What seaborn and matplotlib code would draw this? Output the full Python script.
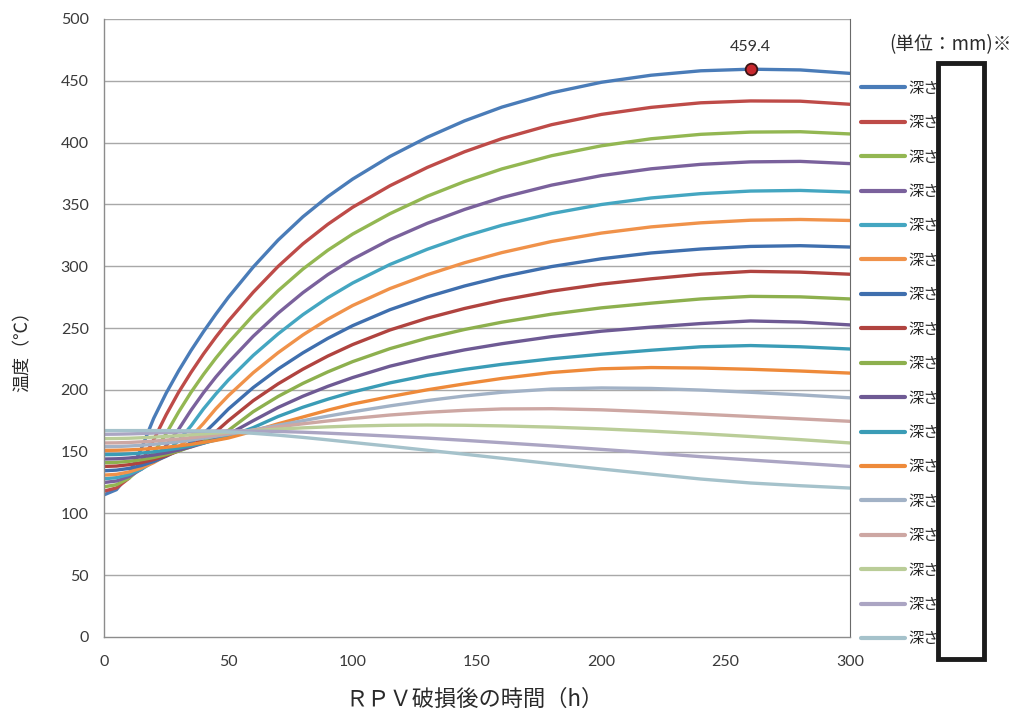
import matplotlib
matplotlib.use("Agg")
import matplotlib.pyplot as plt
import seaborn as sns
import pandas as pd
from matplotlib.patches import Rectangle

# ---------------- data ----------------
time_h = [0, 5, 10, 15, 20, 25, 30, 35, 40, 45, 50, 60, 70, 80, 90, 100,
          115, 130, 145, 160, 180, 200, 220, 240, 260, 280, 300]

s01 = [115, 119.2, 131.6, 152.3, 177, 197.3, 215.3, 231.8, 247, 261.3, 274.8, 299.3, 321.1, 340, 356.3, 370.5,
       388.8, 404.3, 417.6, 428.7, 440.3, 448.8, 454.5, 458.1, 459.4, 458.8, 456]
s02 = [118, 120.6, 128.4, 141.4, 159.6, 179.8, 198, 214.1, 229, 242.7, 255.6, 278.9, 299.8, 318.1, 333.9, 347.7,
       365.1, 379.9, 392.6, 403.2, 414.5, 422.8, 428.5, 432.2, 433.7, 433.5, 431]
s03 = [121.5, 123.2, 128.4, 137, 149.1, 164.5, 182, 198, 212.4, 225.7, 238, 260.3, 280.1, 297.7, 312.9, 326,
       342.5, 356.6, 368.5, 378.7, 389.4, 397.4, 403.1, 406.7, 408.5, 408.8, 407]
s04 = [125, 126.2, 129.8, 135.7, 144, 154.8, 168, 183.5, 197.6, 210.4, 222.1, 243.3, 262, 278.6, 293.2, 305.7,
       321.5, 334.7, 345.9, 355.5, 365.6, 373.3, 378.8, 382.4, 384.4, 384.8, 383]
s05 = [128, 128.9, 131.4, 135.7, 141.7, 149.5, 158.9, 170.8, 184.5, 196.7, 207.9, 227.8, 245.2, 260.8, 274.5, 286.4,
       301.4, 313.7, 324.2, 333.1, 342.6, 349.9, 355.2, 358.7, 360.8, 361.3, 360]
s06 = [131, 131.6, 133.5, 136.7, 141.1, 146.8, 153.8, 162, 172.8, 184.7, 195.2, 213.8, 230, 244.4, 257.1, 268.2,
       281.9, 293.1, 302.8, 311, 320, 326.8, 331.8, 335.1, 337.2, 337.8, 337]
s07 = [134.5, 135, 136.4, 138.7, 142, 146.2, 151.3, 157.4, 164.4, 174.2, 184.4, 201.8, 216.8, 229.9, 241.6, 251.9,
       264.8, 275.2, 284, 291.5, 299.7, 306, 310.7, 313.9, 316, 316.6, 315.5]
s08 = [138, 138.3, 139.4, 141.1, 143.6, 146.7, 150.5, 155, 160.2, 166.1, 175, 191.2, 204.8, 216.7, 227.3, 236.6,
       248.4, 257.9, 265.8, 272.5, 279.8, 285.5, 289.8, 293.5, 295.8, 295.2, 293.5]
s09 = [141, 141.3, 142.1, 143.4, 145.2, 147.6, 150.5, 153.9, 157.8, 162.3, 167.1, 182.3, 194.6, 205.2, 214.5, 222.8,
       233.3, 241.8, 248.8, 254.7, 261.2, 266.3, 270.1, 273.5, 275.6, 275.2, 273.5]
s10 = [144, 144.2, 144.8, 145.8, 147.2, 149, 151.2, 153.8, 156.8, 160.2, 163.9, 175, 185.7, 194.8, 202.8, 209.9,
       219.1, 226.3, 232.3, 237.3, 243, 247.4, 250.7, 253.6, 255.7, 254.8, 252.5]
s11 = [147.5, 147.6, 148.1, 148.8, 149.8, 151.2, 152.8, 154.7, 156.9, 159.4, 162.1, 169.4, 178.4, 185.9, 192.4, 198.2,
       205.6, 211.7, 216.5, 220.6, 225.1, 228.8, 232, 234.8, 235.8, 234.8, 233]
s12 = [151, 151.1, 151.4, 151.9, 152.6, 153.5, 154.6, 155.9, 157.4, 159.1, 161, 166.5, 172.5, 178, 183.5, 188.5,
       194.5, 200, 204.8, 209.2, 214, 217, 218, 217.6, 216.6, 215.2, 213.5]
s13 = [154, 154.1, 154.5, 155.1, 155.9, 156.9, 158, 159.3, 160.8, 162.4, 164, 167.5, 171.3, 175, 178.7, 182.2,
       187, 191.3, 195, 198, 200.6, 201.5, 201.1, 199.8, 198, 195.9, 193.5]
s14 = [157, 157.1, 157.4, 157.9, 158.5, 159.3, 160.2, 161.2, 162.3, 163.5, 164.8, 167.4, 170, 172.5, 174.8, 176.8,
       179.6, 181.8, 183.4, 184.5, 184.7, 183.8, 182.2, 180.3, 178.4, 176.5, 174.5]
s15 = [160.5, 160.6, 160.8, 161.2, 161.7, 162.3, 162.9, 163.6, 164.3, 165, 165.7, 167, 168.2, 169.2, 170, 170.7,
       171.3, 171.5, 171.3, 170.8, 169.8, 168.4, 166.6, 164.5, 162.2, 159.7, 157]
s16 = [164, 164.1, 164.3, 164.6, 165, 165.4, 165.8, 166.2, 166.5, 166.7, 166.8, 166.7, 166.3, 165.7, 164.9, 164,
       162.5, 160.9, 159.1, 157.2, 154.6, 151.8, 148.9, 145.9, 143.2, 140.6, 138]
s17 = [167, 167, 167, 167, 167, 167, 166.9, 166.8, 166.6, 166.3, 165.9, 164.8, 163.3, 161.5, 159.5, 157.4,
       154.3, 151.1, 147.9, 144.6, 140.2, 135.9, 131.8, 127.8, 124.6, 122.4, 120.5]

series_list = [s01, s02, s03, s04, s05, s06, s07, s08, s09, s10, s11, s12, s13, s14, s15, s16, s17]
series_ids = [f"s{i:02d}" for i in range(1, 18)]
legend_labels = ["深さ"] * 17

colors = ["#4A7CB8", "#BE4B48", "#93B752", "#7A619C", "#44A6C1", "#F0924A",
          "#3F6FAE", "#B0433F", "#8DB04E", "#6E5A94", "#3A9CB6", "#EE8A3A",
          "#A2B2C6", "#CDA7A3", "#BACD98", "#ABA5C3", "#A5C2CB"]

peak_t = [260]
peak_v = [459.4]
peak_label = "459.4"

y_ticks = list(range(0, 501, 50))
x_ticks = list(range(0, 301, 50))

# ---------------- figure ----------------
sns.set_theme(style="white")
plt.rcParams['font.family'] = ['Lato', 'Noto Sans CJK JP', 'DejaVu Sans']
cjk = ['Noto Sans CJK JP', 'DejaVu Sans']

rows = []
for sid, vals in zip(series_ids, series_list):
    for t, v in zip(time_h, vals):
        rows.append({"time": t, "temp": v, "series": sid})
df = pd.DataFrame(rows)

fig = plt.figure(figsize=(10.24, 7.13), dpi=100)
fig.patch.set_facecolor("white")
ax = fig.add_axes([104 / 1024, 76 / 713, 746 / 1024, 618 / 713])

for yt in y_ticks[1:]:
    ax.axhline(yt, color="#a8a8a8", lw=1.0, zorder=0)

sns.lineplot(data=df, x="time", y="temp", hue="series", hue_order=series_ids,
             palette=colors, linewidth=2.4, legend=False, ax=ax,
             sort=False, estimator=None)
for ln in ax.get_lines():
    ln.set_solid_joinstyle("round")

sns.scatterplot(x=peak_t, y=peak_v, s=70, color="#C8282E", edgecolor="#3a1414",
                linewidth=1.3, ax=ax, zorder=6, legend=False)
ax.annotate(peak_label, (peak_t[0], peak_v[0]), xytext=(0, 11), textcoords="offset points",
            ha="center", va="bottom", fontsize=11.5, color="#303030")

ax.set_xlim(0, 300)
ax.set_ylim(0, 500)
ax.set_xticks(x_ticks)
ax.set_yticks(y_ticks)
ax.tick_params(axis="both", which="both", direction="out", length=5, width=1,
               color="#8c8c8c", labelsize=11.5, labelcolor="#3a3a3a", pad=6)
ax.tick_params(axis="x", pad=8)
ax.spines["top"].set_visible(False)
ax.spines["right"].set_color("#6a6a6a")
ax.spines["right"].set_linewidth(0.8)
for side in ["left", "bottom"]:
    ax.spines[side].set_color("#8c8c8c")
    ax.spines[side].set_linewidth(1.0)

ax.set_xlabel("ＲＰＶ破損後の時間（h）", family=cjk, fontsize=16, color="#2a2a2a")
ax.set_ylabel("温度（℃）", family=cjk, fontsize=13, color="#2a2a2a")
ax.xaxis.set_label_coords(0.497, -0.083)
ax.yaxis.set_label_coords(-0.097, 0.47)

handles = ax.get_lines()[len(y_ticks) - 1:len(y_ticks) - 1 + 17]
leg = fig.legend(handles, legend_labels, loc="upper left",
                 bbox_to_anchor=(847 / 1024, 1 - 66 / 713), frameon=False,
                 handlelength=2.9, handletextpad=0.2, labelspacing=1.14,
                 prop={"family": cjk, "size": 11})
for line in leg.get_lines():
    line.set_linewidth(3.0)

fig.text(950 / 1024, 1 - 45 / 713, "(単位：mm)※", family=cjk, fontsize=13.5,
         ha="center", va="center", color="#2a2a2a")

fig.add_artist(Rectangle((938 / 1024, 54 / 713), 46 / 1024, 596 / 713,
                         transform=fig.transFigure, facecolor="white",
                         edgecolor="#1c1c1c", lw=3.5, zorder=20))

fig.savefig("out.png", dpi=100, facecolor="white")
